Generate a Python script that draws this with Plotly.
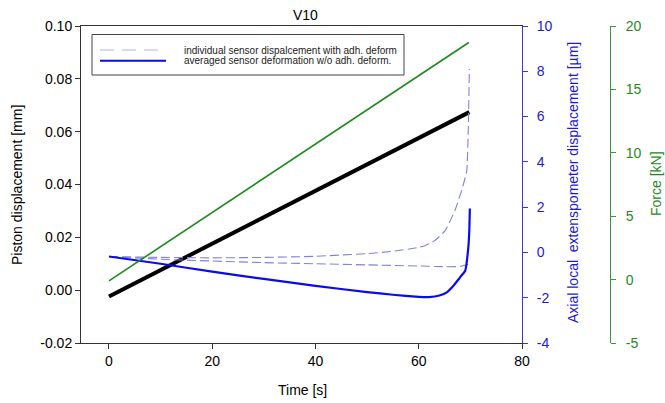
import plotly.graph_objects as go

# ---- measured data (test V10) ----
piston_t = [0, 5, 10, 15, 20, 25, 30, 35, 40, 45, 50, 55, 60, 65, 69.8]
piston_mm = [-0.0024, 0.0026, 0.0076, 0.0126, 0.0175, 0.0225, 0.0275, 0.0325,
             0.0375, 0.0425, 0.0474, 0.0524, 0.0574, 0.0624, 0.0674]

force_t = [0, 10, 20, 30, 40, 50, 60, 69.7]
force_kn = [-0.1, 2.6, 5.3, 8.0, 10.7, 13.4, 16.1, 18.7]

sensor_a_t = [0, 10, 20, 30, 40, 50, 55, 60, 61.2, 63.1, 65.1, 67.0, 68.3, 69.3, 69.6, 69.8]
sensor_a_um = [-0.18, -0.22, -0.24, -0.22, -0.17, -0.05, 0.05, 0.22, 0.3, 0.52, 0.96,
               1.85, 2.73, 3.6, 5.5, 8.1]

sensor_b_t = [0, 10, 20, 30, 40, 50, 60, 65, 68, 69.9]
sensor_b_um = [-0.18, -0.3, -0.38, -0.45, -0.5, -0.55, -0.6, -0.63, -0.62, -0.5]

avg_t = [0, 10, 20, 30, 40, 50, 55, 60, 62, 64, 65.5, 66.8, 68, 69, 69.6, 69.8, 69.9]
avg_um = [-0.18, -0.5, -0.85, -1.17, -1.48, -1.75, -1.87, -1.96, -1.97, -1.9, -1.75,
          -1.45, -1.1, -0.81, 0.21, 1.0, 1.94]

x_ticks = [0, 20, 40, 60, 80]
left_ticks = [-0.02, 0.0, 0.02, 0.04, 0.06, 0.08, 0.10]
left_labels = ["-0.02", "0.00", "0.02", "0.04", "0.06", "0.08", "0.10"]
blue_ticks = [-4, -2, 0, 2, 4, 6, 8, 10]
blue_labels = ["-4", "-2", "0", "2", "4", "6", "8", "10"]
green_ticks = [-5, 0, 5, 10, 15, 20]
green_labels = ["-5", "0", "5", "10", "15", "20"]

legend_labels = ["individual sensor dispalcement with adh. deform",
                 "averaged sensor deformation w/o adh. deform."]

W, H = 665, 403
FONT = "Liberation Sans, Arial, sans-serif"
BLUE = "#0a0af0"
BLUE_AX = "#3a3ac8"
DASH_BLUE = "#8080e0"
GREEN = "#1e8a1e"
GREEN_AX = "#3a9a3a"


def px(x):
    return x / W


def py(y):
    return 1 - y / H


fig = go.Figure()

fig.add_trace(go.Scatter(x=force_t, y=force_kn, yaxis="y3", mode="lines",
                         line=dict(color=GREEN, width=1.6), showlegend=False))
fig.add_trace(go.Scatter(x=piston_t, y=piston_mm, yaxis="y", mode="lines",
                         line=dict(color="black", width=4), showlegend=False))
fig.add_trace(go.Scatter(x=sensor_a_t, y=sensor_a_um, yaxis="y2", mode="lines",
                         line=dict(color=DASH_BLUE, width=1.1, dash="9px,4px", shape="spline",
                                   smoothing=0.4), showlegend=False))
fig.add_trace(go.Scatter(x=sensor_b_t, y=sensor_b_um, yaxis="y2", mode="lines",
                         line=dict(color=DASH_BLUE, width=1.1, dash="9px,4px", shape="spline",
                                   smoothing=0.4), showlegend=False))
fig.add_trace(go.Scatter(x=avg_t, y=avg_um, yaxis="y2", mode="lines",
                         line=dict(color=BLUE, width=2.2, shape="spline", smoothing=0.4),
                         showlegend=False))

tickfont = dict(family=FONT, size=14, color="black")

fig.update_layout(
    width=W, height=H,
    margin=dict(l=0, r=0, t=0, b=0),
    paper_bgcolor="white", plot_bgcolor="white",
    font=dict(family=FONT, size=14, color="black"),
    xaxis=dict(domain=[px(81), px(522)], range=[-5.42, 80], tickvals=x_ticks,
               ticks="outside", ticklen=5, tickcolor="#333", showgrid=False, zeroline=False,
               showline=True, linecolor="#333", linewidth=1, mirror=True,
               tickfont=tickfont, automargin=False),
    yaxis=dict(domain=[py(343), py(26)], range=[-0.02, 0.10], tickvals=left_ticks,
               ticktext=left_labels, ticks="outside", ticklen=5, tickcolor="#333",
               showgrid=False, zeroline=False, showline=True, linecolor="#333",
               linewidth=1, tickfont=tickfont, automargin=False),
    yaxis2=dict(overlaying="y", side="right", anchor="x", range=[-4, 10],
                tickvals=blue_ticks, ticktext=blue_labels, ticks="outside", ticklen=5,
                tickcolor=BLUE_AX, showgrid=False, zeroline=False, showline=True,
                linecolor=BLUE_AX, linewidth=1, ticklabelstandoff=6,
                tickfont=dict(family=FONT, size=14, color="#1a1ad8"), automargin=False),
    yaxis3=dict(overlaying="y", side="right", anchor="free", position=px(610),
                range=[-5, 20], tickvals=green_ticks, ticktext=green_labels,
                ticks="outside", ticklen=5, tickcolor=GREEN_AX, showgrid=False,
                zeroline=False, showline=True, linecolor=GREEN_AX, linewidth=1,
                ticklabelstandoff=7,
                tickfont=dict(family=FONT, size=14, color="#1e8a1e"), automargin=False),
)

# axis titles and chart title
ann = [
    dict(text="V10", x=px(305), y=py(15), font=dict(size=14, color="black")),
    dict(text="Time [s]", x=px(302), y=py(390), font=dict(size=14, color="black")),
    dict(text="Piston displacement [mm]", x=px(17), y=py(185), textangle=-90,
         font=dict(size=14, color="black")),
    dict(text="Axial local  extenspometer displacement [µm]", x=px(573), y=py(183),
         textangle=-90, font=dict(size=14, color="#1a1ad8")),
    dict(text="Force [kN]", x=px(656), y=py(184), textangle=-90,
         font=dict(size=14, color="#1e8a1e")),
    dict(text=legend_labels[0], x=px(182), y=py(50), xanchor="left",
         font=dict(size=10, color="#222")),
    dict(text=legend_labels[1], x=px(182), y=py(61), xanchor="left",
         font=dict(size=10, color="#222")),
]
for a in ann:
    a.setdefault("xanchor", "center")
    a.update(xref="paper", yref="paper", yanchor="middle", showarrow=False,
             font=dict(family=FONT, **a["font"]))
    fig.add_annotation(**a)

# legend box with line samples
fig.add_shape(type="rect", xref="paper", yref="paper", x0=px(92), x1=px(404),
              y0=py(75), y1=py(34.5), line=dict(color="#444", width=1), fillcolor="white",
              layer="below")
fig.add_shape(type="line", xref="paper", yref="paper", x0=px(100), x1=px(166),
              y0=py(50), y1=py(50), line=dict(color="#b4b4f0", width=1.2, dash="14px,8px"))
fig.add_shape(type="line", xref="paper", yref="paper", x0=px(100), x1=px(166),
              y0=py(60.7), y1=py(60.7), line=dict(color=BLUE, width=2))

fig.write_html("out.html")
